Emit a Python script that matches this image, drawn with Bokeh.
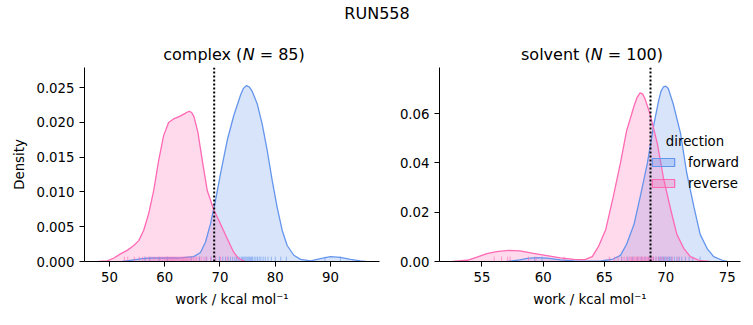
import numpy as np
from bokeh.plotting import figure
from bokeh.models import (Range1d, FixedTicker, PrintfTickFormatter, Span, Label,
                          Legend, LegendItem, ColumnDataSource)
from bokeh.layouts import column, row
from bokeh.embed import file_html
from bokeh.resources import INLINE

FONT = "DejaVu Sans"
BLUE = "#6495ED"
PINK = "#FF69B4"

SUPTITLE = "RUN558"
PHASES = ["complex", "solvent"]
N_SAMPLES = [85, 100]
DIRECTIONS = ["forward", "reverse"]
LEGEND_TITLE = "direction"
X_LABEL = "work / kcal mol\u207b\u00b9"
Y_LABEL = "Density"
X_TICKS = [[50, 60, 70, 80, 90], [55, 60, 65, 70, 75]]
Y_TICKS = [[0.0, 0.005, 0.010, 0.015, 0.020, 0.025], [0.0, 0.02, 0.04, 0.06]]
FREE_ENERGY = [68.95, 68.75]

# ---- complex: KDE curves ----
cx_fwd_x = [52.3, 54.1, 55.9, 57.7, 60.1, 62.5, 63.7, 65.26, 66.47, 67.38, 68.28, 69.19,
            70.09, 71.30, 72.50, 73.71, 74.25, 74.80, 75.30, 75.82, 76.73, 77.63, 78.54,
            79.44, 80.35, 81.25, 82.16, 83.36, 84.57, 86.4, 88.2, 90.0, 91.8, 93.6, 95.4,
            96.4]
cx_fwd_y = [0.0, 0.0002, 0.0004, 0.0005, 0.0005, 0.0005, 0.0006, 0.0007, 0.0013, 0.0028,
            0.0054, 0.0088, 0.0126, 0.0174, 0.0210, 0.0239, 0.0249, 0.0253, 0.0251,
            0.0245, 0.0227, 0.0198, 0.0160, 0.0117, 0.0078, 0.0045, 0.0023, 0.0009,
            0.0003, 0.0001, 0.0004, 0.0007, 0.0006, 0.0003, 0.0001, 0.0]
cx_rev_x = [48.0, 49.6, 50.8, 52.0, 53.2, 54.4, 55.3, 56.2, 57.1, 58.0, 58.9, 59.8, 60.7,
            61.6, 62.8, 63.7, 64.1, 64.5, 64.9, 65.3, 66.0, 66.8, 67.7, 68.8, 70.1, 71.3,
            72.5, 73.4, 74.6]
cx_rev_y = [0.0, 0.0001, 0.0005, 0.0011, 0.0016, 0.0023, 0.0030, 0.0045, 0.0069, 0.0102,
            0.0145, 0.0181, 0.0200, 0.0205, 0.0209, 0.0213, 0.0215, 0.0216, 0.0214,
            0.0208, 0.0186, 0.0145, 0.0102, 0.0076, 0.0054, 0.0033, 0.0013, 0.0004, 0.0]

# ---- solvent: KDE curves ----
sv_fwd_x = [57.0, 57.9, 58.7, 59.5, 60.3, 61.4, 62.5, 63.6, 64.7, 65.7, 66.3, 66.8, 67.4,
            67.9, 68.5, 69.0, 69.4, 69.6, 69.8, 70.0, 70.2, 70.6, 71.2, 71.7, 72.3, 72.8,
            73.4, 73.9, 74.7, 75.0]
sv_fwd_y = [0.0, 0.0005, 0.0013, 0.0016, 0.0014, 0.0007, 0.0002, 0.0001, 0.0002, 0.0010,
            0.0025, 0.0070, 0.0150, 0.0260, 0.0400, 0.0550, 0.0650, 0.0690, 0.0708,
            0.0711, 0.0702, 0.0640, 0.0520, 0.0360, 0.0220, 0.0110, 0.0050, 0.0020,
            0.0003, 0.0]
sv_rev_x = [52.6, 53.8, 54.6, 55.4, 56.2, 57.2, 58.1, 59.2, 60.3, 61.4, 62.5, 63.4, 64.0,
            64.5, 65.1, 65.7, 66.3, 66.8, 67.4, 67.65, 67.9, 68.1, 68.3, 68.7, 69.3, 69.8,
            70.4, 70.9, 71.5, 72.0, 72.8, 73.6]
sv_rev_y = [0.0, 0.0005, 0.0018, 0.0032, 0.0040, 0.0045, 0.0043, 0.0033, 0.0024, 0.0015,
            0.0009, 0.0008, 0.0020, 0.0060, 0.0130, 0.0260, 0.0400, 0.0530, 0.0630,
            0.0665, 0.0684, 0.0680, 0.0660, 0.0600, 0.0480, 0.0340, 0.0210, 0.0110,
            0.0050, 0.0020, 0.0003, 0.0]

# ---- rug: individual work values (estimated) ----
cx_fwd_rug = [56.4, 57.3, 59.0, 60.5, 64.8, 66.3, 67.5, 68.4, 69.2, 69.9, 70.5, 71.0, 71.5,
              71.9, 72.3, 72.7, 73.0, 73.3, 73.6, 73.9, 74.1, 74.3, 74.5, 74.7, 74.9, 75.1,
              75.3, 75.5, 75.7, 75.9, 76.2, 76.5, 76.8, 77.1, 77.4, 77.8, 78.2, 78.7, 79.3,
              80.0, 81.0, 82.0, 89.0, 91.8]
cx_rev_rug = [52.7, 53.3, 54.5, 55.4, 56.0, 56.6, 57.1, 57.5, 57.9, 58.2, 58.6, 58.9, 59.2,
              59.5, 59.7, 60.0, 60.2, 60.4, 60.6, 60.8, 61.0, 61.2, 61.4, 61.6, 61.8, 62.0,
              62.2, 62.4, 62.6, 62.8, 63.0, 63.2, 63.4, 63.6, 63.8, 64.0, 64.2, 64.4, 64.6,
              64.9, 65.2, 65.5, 65.8, 66.2, 66.6, 67.1, 67.6, 68.3, 69.2, 70.1, 71.3]
sv_fwd_rug = [59.3, 59.9, 66.4, 66.9, 67.3, 67.7, 68.0, 68.3, 68.6, 68.8, 69.0, 69.2, 69.4,
              69.5, 69.6, 69.7, 69.8, 69.9, 70.0, 70.1, 70.2, 70.3, 70.4, 70.5, 70.7, 70.9,
              71.1, 71.3, 71.6, 71.9, 72.2, 72.8]
sv_rev_rug = [56.0, 56.6, 57.1, 57.3, 58.8, 59.4, 61.7, 65.4, 65.8, 66.1, 66.4, 66.6, 66.8,
              67.0, 67.1, 67.2, 67.3, 67.4, 67.5, 67.6, 67.7, 67.8, 67.9, 68.0, 68.1, 68.2,
              68.3, 68.4, 68.5, 68.6, 68.7, 68.8, 68.9, 69.0, 69.2, 69.4, 69.6, 69.8, 70.1,
              70.5, 71.0]

X_RANGES = [(45.48, 98.87), (51.54, 76.09)]
Y_RANGES = [(0.0, 0.0279), (0.0, 0.0787)]

CURVES = [
    [(cx_fwd_x, cx_fwd_y, cx_fwd_rug), (cx_rev_x, cx_rev_y, cx_rev_rug)],
    [(sv_fwd_x, sv_fwd_y, sv_fwd_rug), (sv_rev_x, sv_rev_y, sv_rev_rug)],
]
COLORS = [BLUE, PINK]

TICK_FS = "13.3px"
TITLE_FS = "16px"

# DejaVu Sans advance widths (em) for title layout
ADV = {'c': .550, 'o': .612, 'm': .974, 'p': .635, 'l': .278, 'e': .615, 'x': .592,
       ' ': .318, '(': .390, ')': .390, 'N': .748, '=': .838, 's': .521, 'v': .592,
       'n': .634, 't': .392, '0': .636, '1': .636, '2': .636, '3': .636, '4': .636,
       '5': .636, '6': .636, '7': .636, '8': .636, '9': .636}


def text_width(s, px):
    return sum(ADV.get(ch, 0.6) for ch in s) * px


W, TOP_H = 753, 64
FRAME_W = [295, 301]
FRAME_H = 194
BORDER_L = [84, 49]
BORDER_R = [11, 13]
BORDER_T = 3
BORDER_B = 64

# header strip: suptitle + panel titles (pixel-coordinate canvas)
top = figure(width=W, height=TOP_H, x_range=Range1d(0, W), y_range=Range1d(0, TOP_H),
             x_axis_location=None, y_axis_location=None, min_border=0,
             toolbar_location=None, output_backend="svg")
top.outline_line_color = None
top.grid.visible = False
top.add_layout(Label(x=W / 2, y=TOP_H - 13, text=SUPTITLE, text_font=FONT,
                     text_font_size=TITLE_FS, text_align="center",
                     text_baseline="middle", text_color="black"))

frame_left = [BORDER_L[0], BORDER_L[0] + FRAME_W[0] + BORDER_R[0] + BORDER_L[1]]
figs = []
for i, phase in enumerate(PHASES):
    p = figure(frame_width=FRAME_W[i], frame_height=FRAME_H,
               x_range=Range1d(*X_RANGES[i]), y_range=Range1d(*Y_RANGES[i]),
               min_border_left=BORDER_L[i], min_border_right=BORDER_R[i],
               min_border_top=BORDER_T, min_border_bottom=BORDER_B,
               toolbar_location=None, output_backend="svg")
    p.outline_line_color = None
    p.grid.visible = False

    rug_h = 0.025 * (Y_RANGES[i][1] - Y_RANGES[i][0])
    for (xs, ys, rug), col in zip(CURVES[i], COLORS):
        src = ColumnDataSource(dict(x=xs, y=ys))
        p.varea(x="x", y1=0, y2="y", source=src, fill_color=col, fill_alpha=0.25)
    for (xs, ys, rug), col in zip(CURVES[i], COLORS):
        src = ColumnDataSource(dict(x=xs, y=ys))
        p.line(x="x", y="y", source=src, line_color=col, line_width=1.3)
        rsrc = ColumnDataSource(dict(x=rug, y0=[0.0] * len(rug), y1=[rug_h] * len(rug)))
        p.segment(x0="x", x1="x", y0="y0", y1="y1", source=rsrc,
                  line_color=col, line_alpha=0.6, line_width=1)

    p.add_layout(Span(location=FREE_ENERGY[i], dimension="height", line_color="black",
                      line_dash="2 2", line_width=2))

    for ax in (p.xaxis[0], p.yaxis[0]):
        ax.axis_line_color = "black"
        ax.axis_line_width = 1
        ax.major_tick_line_color = "black"
        ax.major_tick_in = 0
        ax.major_tick_out = 5
        ax.minor_tick_line_color = None
        ax.major_label_standoff = 5
        ax.major_label_text_font = FONT
        ax.major_label_text_font_size = TICK_FS
        ax.major_label_text_color = "black"
        ax.axis_label_text_font = FONT
        ax.axis_label_text_font_size = TICK_FS
        ax.axis_label_text_font_style = "normal"
        ax.axis_label_text_color = "black"
    p.xaxis.ticker = FixedTicker(ticks=X_TICKS[i])
    p.yaxis.ticker = FixedTicker(ticks=Y_TICKS[i])
    p.yaxis.formatter = PrintfTickFormatter(format="%.3f" if i == 0 else "%.2f")
    p.xaxis.axis_label = X_LABEL
    p.xaxis.axis_label_standoff = 7
    if i == 0:
        p.yaxis.axis_label = Y_LABEL
        p.yaxis.axis_label_standoff = 6

    # panel title with italic N, placed in the header strip
    fpx = 16
    segs = [(phase + " (", "normal", 0.0), ("N", "italic", 0.0),
            ("= %d)" % N_SAMPLES[i], "normal", text_width(" ", fpx))]
    total = sum(text_width(s, fpx) + gap for s, _, gap in segs)
    xpos = frame_left[i] + FRAME_W[i] / 2 - total / 2 + 2
    for s, style, gap in segs:
        xpos += gap
        top.add_layout(Label(x=xpos, y=TOP_H - 54, text=s, text_font=FONT,
                             text_font_size=TITLE_FS, text_font_style=style,
                             text_align="left", text_baseline="middle",
                             text_color="black"))
        xpos += text_width(s, fpx)
    figs.append(p)

# legend on the solvent panel
p2 = figs[1]
items = []
for d, col in zip(DIRECTIONS, COLORS):
    r = p2.quad(left=[np.nan], right=[np.nan], top=[np.nan], bottom=[np.nan],
                fill_color=col, fill_alpha=0.3, line_color=col, line_width=1.2)
    items.append(LegendItem(label=d, renderers=[r]))
leg = Legend(items=items, location=(210, 70), orientation="vertical",
             glyph_width=28, glyph_height=10, label_height=16, spacing=5,
             padding=0, margin=0, label_standoff=11,
             label_text_font=FONT, label_text_font_size=TICK_FS,
             label_text_color="black",
             border_line_alpha=0, background_fill_alpha=0)
p2.add_layout(leg)
p2.add_layout(Label(x=255.5, y=120, x_units="screen", y_units="screen", text=LEGEND_TITLE,
                    text_font=FONT, text_font_size=TICK_FS, text_align="center",
                    text_baseline="middle", text_color="black"))

layout = column(top, row(figs[0], figs[1]))
open("out.html", "w").write(file_html(layout, INLINE))
